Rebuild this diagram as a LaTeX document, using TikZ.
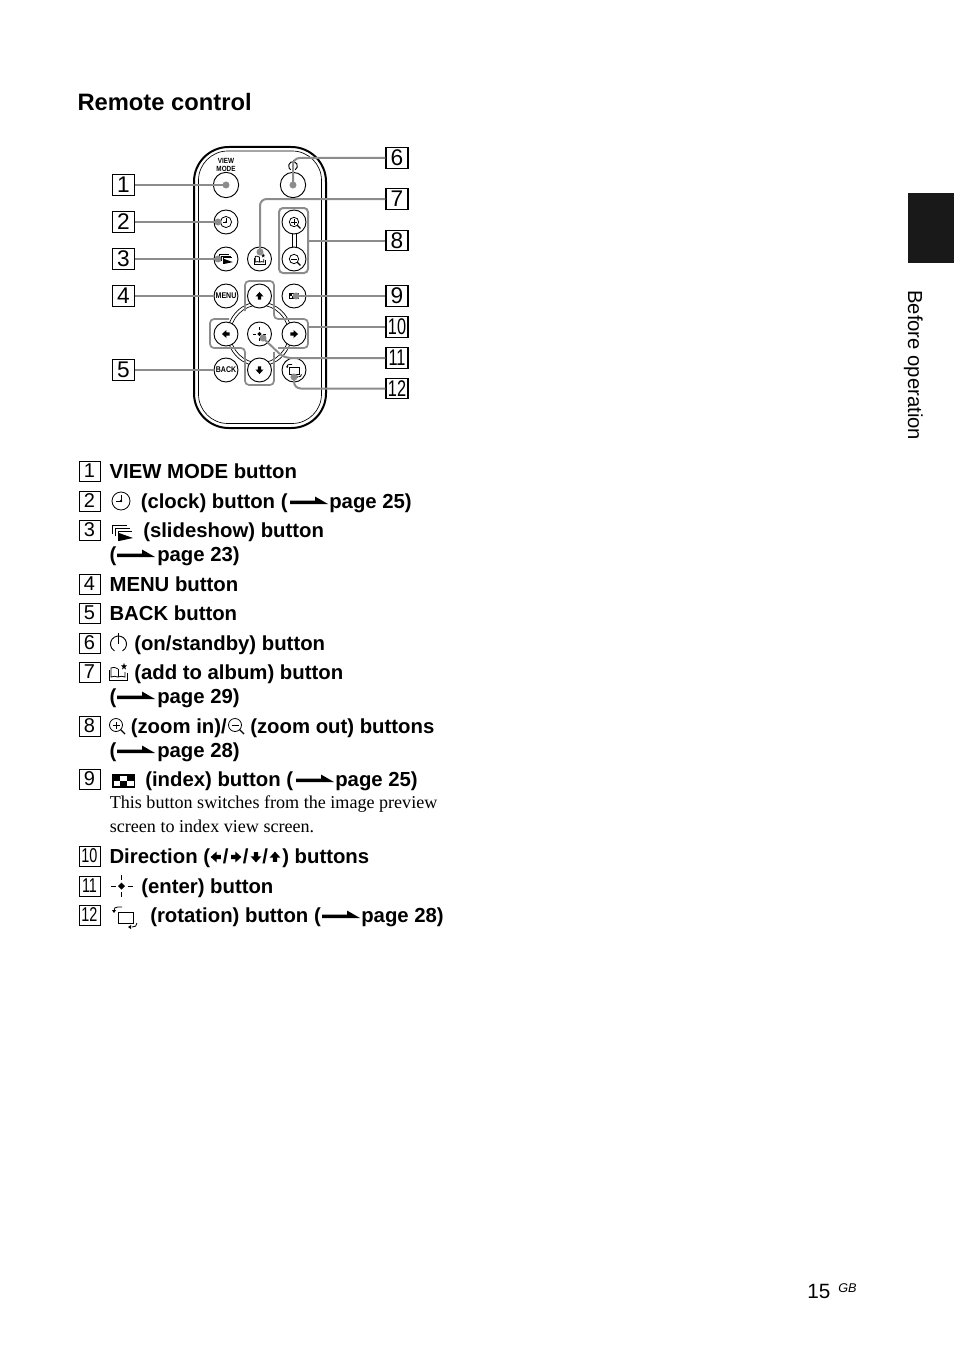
\documentclass[tikz,border=0pt]{standalone}
\usepackage{fontspec}
\usepackage{graphicx}
\setmainfont{Liberation Sans}
\newfontfamily\timesfont{Liberation Serif}
\definecolor{leadgray}{gray}{0.55}
\definecolor{tabblack}{gray}{0.1}
\tikzset{
  numbox/.style={draw, line width=0.8pt, minimum width=16.5pt, minimum height=15.5pt, inner sep=0pt, font=\fontsize{17}{18}\selectfont},
  keybox/.style={draw, line width=0.5pt, minimum width=15.5pt, minimum height=15pt, inner sep=0pt, font=\fontsize{15}{16}\selectfont},
  btn/.style={circle, draw, fill=white, line width=0.7pt, minimum size=18pt, inner sep=0pt},
  lead/.style={leadgray, line width=1.5pt, rounded corners=5pt},
  item/.style={anchor=base west, inner sep=0pt, font=\fontsize{15.25}{18}\selectfont\bfseries},
  note/.style={anchor=base west, inner sep=0pt, font=\timesfont\fontsize{13.57}{16}\selectfont},
  clockicon/.pic={
    \draw[line width=0.6pt] (0,0) circle (9);
    \draw[line width=0.6pt] (0,-6) -- (0,0) -- (-5,0);
    \fill (0,0) circle (1.3);
  },
  slideicon/.pic={
    \draw[line width=0.6pt] (-10,1) -- (-10,-8) -- (5,-8);
    \draw[line width=0.6pt] (-7,3) -- (-7,-5) -- (8,-5);
    \draw[line width=0.6pt] (-4,8) -- (-4,-2) -- (10,-2);
    \fill (-3,0) -- (11,5) -- (-3,8) -- cycle;
  },
  powericon/.pic={
    \draw[line width=0.7pt] (60:8) arc (60:-240:8);
    \draw[line width=0.7pt] (0,0) -- (0,-11);
  },
  albumicon/.pic={
    \draw[line width=0.6pt] (0,-3) .. controls (-3,-5) and (-6,-5) .. (-7,-4) -- (-7,5) .. controls (-5,4) and (-2,4) .. (0,5) .. controls (2,4) and (5,4) .. (7,5) -- (7,0);
    \draw[line width=0.6pt] (0,-3) -- (0,5);
    \draw[line width=0.6pt] (-9,-2) -- (-9,8) -- (9,8) -- (9,1);
    \fill (6,-9) -- (6.8,-6.8) -- (9,-6.5) -- (7.2,-5) -- (8,-2.5) -- (6,-4) -- (4,-2.5) -- (4.8,-5) -- (3,-6.5) -- (5.2,-6.8) -- cycle;
  },
  zoominicon/.pic={
    \draw[line width=0.6pt] (0,0) circle (6.5);
    \draw[line width=0.6pt] (-3.5,0) -- (3.5,0) (0,-3.5) -- (0,3.5);
    \draw[line width=0.9pt] (4.6,4.6) -- (9,9);
  },
  zoomouticon/.pic={
    \draw[line width=0.6pt] (0,0) circle (6.5);
    \draw[line width=0.6pt] (-3.5,0) -- (3.5,0);
    \draw[line width=0.9pt] (4.6,4.6) -- (9,9);
  },
  indexicon/.pic={
    \fill (-11.5,-7) rectangle (11.5,7);
    \fill[white] (-3.5,-5) rectangle (3.5,0);
    \fill[white] (-10,0) rectangle (-3.5,5);
    \fill[white] (3.5,0) rectangle (10,5);
  },
  entericon/.pic={
    \fill (-3.5,0) -- (0,-3.5) -- (3.5,0) -- (0,3.5) -- cycle;
    \draw[line width=0.6pt] (-11,0) -- (-6,0) (6,0) -- (11,0) (0,-11) -- (0,-6) (0,6) -- (0,11);
  },
  rotateicon/.pic={
    \draw[line width=0.6pt] (-7,-4) rectangle (8,7);
    \draw[line width=0.6pt] (-3,-9) -- (-7,-9) .. controls (-10,-9) and (-11,-8) .. (-11,-5);
    \fill (-13,-6) -- (-9,-6) -- (-11,-3) -- cycle;
    \draw[line width=0.6pt] (7,11) .. controls (10,11) and (12,10) .. (12,7);
    \fill (6,9) -- (6,13) -- (3,11) -- cycle;
  },
  blockarrow/.pic={
    \fill (0,-4.5) -- (4.5,0.5) -- (1.8,0.5) -- (1.8,4) -- (-1.8,4) -- (-1.8,0.5) -- (-4.5,0.5) -- cycle;
  },
  pagearrow/.pic={
    \fill (0,-2) -- (25,-2) -- (25,-6) -- (38,1.5) -- (0,1.5) -- cycle;
  },
}
\begin{document}
\begin{tikzpicture}[x=0.75pt, y=-0.75pt]
  \useasboundingbox (0,0) rectangle (954,1352);

  \node[anchor=base west, inner sep=0pt, font=\fontsize{17.8}{20}\selectfont\bfseries] (title) at (77.3,111) {Remote control};

  % Body of the remote
  \draw[line width=1.5pt, rounded corners=26pt] (194,147) -- (326,147) -- (326,428) -- (194,428) -- cycle;
  \draw[line width=0.5pt, rounded corners=22pt] (198.5,151) -- (321.5,151) -- (321.5,423.5) -- (198.5,423.5) -- cycle;

  % Ring round the direction keys
  \coordinate (ringc) at (259.5,334);
  \draw[line width=0.5pt] (ringc) circle (32);
  \draw[line width=0.5pt] (ringc) circle (29);

  % Double line between the zoom keys
  \draw[line width=0.5pt] (292.8,230) -- (292.8,250);
  \draw[line width=0.5pt] (296,230) -- (296,250);

  % Buttons
  \node[btn, minimum size=19pt] (bview) at (226,185) {};
  \node[btn, minimum size=19pt] (bpower) at (293,185) {};
  \node[btn] (bclock) at (226,222) {};
  \node[btn] (bslide) at (226,259) {};
  \node[btn] (balbum) at (259.5,259) {};
  \node[btn] (bzoomin) at (294,222) {};
  \node[btn] (bzoomout) at (294,259) {};
  \node[btn, font=\fontsize{6.2}{7}\selectfont\bfseries] (bmenu) at (226,296) {\scalebox{0.85}[1]{MENU}};
  \node[btn] (bup) at (259.5,296) {};
  \node[btn] (bindex) at (294,296) {};
  \node[btn] (bleft) at (226,334) {};
  \node[btn] (benter) at (259.5,334) {};
  \node[btn] (bright) at (294,334) {};
  \node[btn, font=\fontsize{6.2}{7}\selectfont\bfseries] (bback) at (226,370) {\scalebox{0.85}[1]{BACK}};
  \node[btn] (bdown) at (259.5,370) {};
  \node[btn] (brotate) at (294,370) {};

  \node[inner sep=0pt, align=center, font=\fontsize{5.6}{5.8}\selectfont\bfseries] (lview) at (226,165) {\scalebox{0.85}[1]{VIEW}\\\scalebox{0.85}[1]{MODE}};

  % Button icons
  \pic[scale=0.62] at (bclock) {clockicon};
  \pic[scale=0.62] at (bslide) {slideicon};
  \pic[scale=0.62] at (balbum) {albumicon};
  \pic[scale=0.72] at (bzoomin) {zoominicon};
  \pic[scale=0.72] at (bzoomout) {zoomouticon};
  \pic[scale=0.45] at (bindex) {indexicon};
  \pic[scale=0.62] at (benter) {entericon};
  \pic[scale=0.62] at (brotate) {rotateicon};
  \pic[scale=0.55] at (293,166) {powericon};
  \pic[scale=0.9] at (bup) {blockarrow};
  \pic[rotate=180, scale=0.9] at (bdown) {blockarrow};
  \pic[rotate=90, scale=0.9] at (bleft) {blockarrow};
  \pic[rotate=-90, scale=0.9] at (bright) {blockarrow};

  % Grey outlines of the key groups
  \draw[lead, rounded corners=3pt] (279,208) rectangle (308,273);
  \draw[lead, rounded corners=3pt, line width=1.3pt] (245,311) -- (245,281) -- (274,281) -- (274,319) -- (308,319) -- (308,348) -- (278,348);
  \draw[lead, rounded corners=3pt, line width=1.3pt] (229,319) -- (210,319) -- (210,348) -- (245,348) -- (245,385) -- (274,385) -- (274,352);

  % Number boxes
  \node[numbox] (n1) at (123.5,185) {1};
  \node[numbox] (n2) at (123.5,222) {2};
  \node[numbox] (n3) at (123.5,259) {3};
  \node[numbox] (n4) at (123.5,296) {4};
  \node[numbox] (n5) at (123.5,370) {5};
  \node[numbox] (n6) at (397,158) {6};
  \node[numbox] (n7) at (397,199) {7};
  \node[numbox] (n8) at (397,240.5) {8};
  \node[numbox] (n9) at (397,296) {9};
  \node[numbox] (n10) at (397,327) {\scalebox{0.72}[1]{10}};
  \node[numbox] (n11) at (397,358) {\scalebox{0.72}[1]{11}};
  \node[numbox] (n12) at (397,388.5) {\scalebox{0.72}[1]{12}};

  % Free ends of the leaders
  \coordinate (dclock) at (218,222);
  \coordinate (dslide) at (218,259);
  \coordinate (dpower) at (293,185);
  \coordinate (dalbum) at (260,252);
  \coordinate (dindex) at (296,296);
  \coordinate (dentr) at (263,338);
  \coordinate (drot) at (294,377);
  \coordinate (kenter) at (284,358);
  \coordinate (krot) at (294,388.5);

  % Leaders
  \draw[lead] (n1.east) -- (bview.center);
  \draw[lead] (n2.east) -- (dclock);
  \draw[lead] (n3.east) -- (dslide);
  \draw[lead] (n4.east) -- (bmenu.west);
  \draw[lead] (n5.east) -- (bback.west);
  \draw[lead] (n6.west) -| (dpower);
  \draw[lead] (n7.west) -| (dalbum);
  \draw[lead, rounded corners=0pt] (n8.west) -- (308,240.5);
  \draw[lead] (n9.west) -- (dindex);
  \draw[lead, rounded corners=0pt] (n10.west) -- (308,327);
  \draw[lead] (n11.west) -- (kenter) -- (dentr);
  \draw[lead] (n12.west) -- (krot) -- (drot);

  \filldraw[leadgray] (bview.center) circle (3.2);
  \filldraw[leadgray] (dclock) circle (3.2);
  \filldraw[leadgray] (dslide) circle (3.2);
  \filldraw[leadgray] (dpower) circle (3.2);
  \filldraw[leadgray] (dalbum) circle (3.2);
  \filldraw[leadgray] (dindex) circle (3.2);
  \filldraw[leadgray] (dentr) circle (3.2);
  \filldraw[leadgray] (drot) circle (3.2);

  % Key list
  \node[keybox] (k1) at (89.5,471) {1};
  \node[keybox] (k2) at (89.5,501) {2};
  \node[keybox] (k3) at (89.5,530) {3};
  \node[keybox] (k4) at (89.5,584) {4};
  \node[keybox] (k5) at (89.5,613) {5};
  \node[keybox] (k6) at (89.5,643) {6};
  \node[keybox] (k7) at (89.5,672) {7};
  \node[keybox] (k8) at (89.5,726) {8};
  \node[keybox] (k9) at (89.5,779) {9};
  \node[keybox] (k10) at (89.5,856) {\scalebox{0.72}[1]{10}};
  \node[keybox] (k11) at (89.5,886) {\scalebox{0.72}[1]{11}};
  \node[keybox] (k12) at (89.5,915) {\scalebox{0.72}[1]{12}};

  \node[item] (t1) at (109.3,478) {VIEW MODE button};

  \pic at (121,501) {clockicon};
  \node[item] (t2) at (140.5,508) {(clock) button (};
  \pic at (290,502.5) {pagearrow};
  \node[item] (t2p) at (329,508) {page 25)};

  \pic at (122,533) {slideicon};
  \node[item] (t3) at (143,537) {(slideshow) button};
  \node[item] (t3a) at (109.3,561) {(};
  \pic at (117,555.5) {pagearrow};
  \node[item] (t3p) at (157,561) {page 23)};

  \node[item] (t4) at (109.3,591) {MENU button};
  \node[item] (t5) at (109.3,620) {BACK button};

  \pic at (118.5,644) {powericon};
  \node[item] (t6) at (134,650) {(on/standby) button};

  \pic at (118,672) {albumicon};
  \node[item] (t7) at (134,679) {(add to album) button};
  \node[item] (t7a) at (109.3,703) {(};
  \pic at (117,697.5) {pagearrow};
  \node[item] (t7p) at (157,703) {page 29)};

  \pic at (116,725) {zoominicon};
  \node[item] (t8) at (130.5,733) {(zoom in)/};
  \pic at (235,725) {zoomouticon};
  \node[item] (t8b) at (250,733) {(zoom out) buttons};
  \node[item] (t8a) at (109.3,757) {(};
  \pic at (117,751.5) {pagearrow};
  \node[item] (t8p) at (157,757) {page 28)};

  \pic at (123.5,781) {indexicon};
  \node[item] (t9) at (145,786) {(index) button (};
  \pic at (296,780.5) {pagearrow};
  \node[item] (t9p) at (335,786) {page 25)};
  \node[note] (t9n) at (109.5,808) {This button switches from the image preview};
  \node[note] (t9m) at (109.5,832) {screen to index view screen.};

  \node[item] (t10) at (109.3,863) {Direction (};
  \pic[rotate=90, scale=1.2] at (216,857) {blockarrow};
  \node[item] (t10a) at (222.5,863) {/};
  \pic[rotate=-90, scale=1.2] at (236,857) {blockarrow};
  \node[item] (t10b) at (242.5,863) {/};
  \pic[rotate=180, scale=1.2] at (256,857) {blockarrow};
  \node[item] (t10c) at (262,863) {/};
  \pic[scale=1.2] at (275,857) {blockarrow};
  \node[item] (t10d) at (282,863) {) buttons};

  \pic at (121.5,886) {entericon};
  \node[item] (t11) at (141,893) {(enter) button};

  \pic at (125,916) {rotateicon};
  \node[item] (t12) at (150,922) {(rotation) button (};
  \pic at (322,916.5) {pagearrow};
  \node[item] (t12p) at (361,922) {page 28)};

  % Side tab
  \fill[tabblack] (908,193) rectangle (954,263);
  \node[rotate=-90, anchor=base west, inner sep=0pt, font=\fontsize{15.2}{18}\selectfont] (side) at (908,290) {Before operation};

  % Page number
  \node[anchor=base west, inner sep=0pt, font=\fontsize{15.5}{18}\selectfont] (pageno) at (807,1298) {15};
  \node[anchor=base west, inner sep=0pt, font=\fontsize{9.5}{12}\selectfont\itshape] (lang) at (838,1292) {GB};
\end{tikzpicture}
\end{document}
